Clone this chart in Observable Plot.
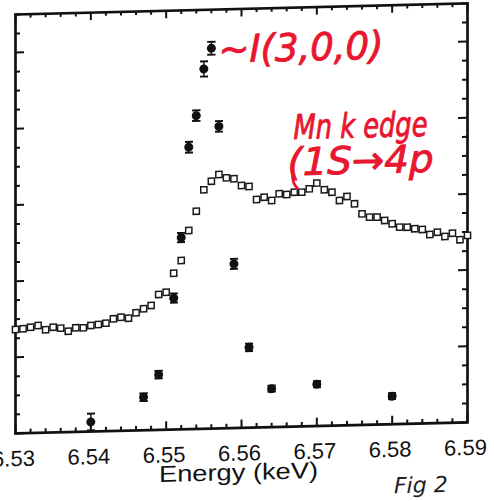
<!DOCTYPE html>
<html><head><meta charset="utf-8">
<script src="https://cdn.jsdelivr.net/npm/d3@7"></script>
<script src="https://cdn.jsdelivr.net/npm/@observablehq/plot@0.6"></script>
<style>
html,body{margin:0;padding:0;background:#fff;overflow:hidden;width:494px;height:501px;}
#chart svg{display:block;transform:skewY(-1.4deg);transform-origin:15px 433px;}
</style></head><body><div id="chart"></div>
<script>
// Mn K-edge fluorescence (open squares)
const edgeEnergy = [6.530,6.531,6.532,6.533,6.534,6.535,6.536,6.537,6.538,6.539,6.540,6.541,6.542,6.543,6.544,6.545,6.546,6.547,6.548,6.549,6.550,6.551,6.552,6.553,6.554,6.555,6.556,6.557,6.558,6.559,6.560,6.561,6.562,6.563,6.564,6.565,6.566,6.567,6.568,6.569,6.570,6.571,6.572,6.573,6.574,6.575,6.576,6.577,6.578,6.579,6.580,6.581,6.582,6.583,6.584,6.585,6.586,6.587,6.588,6.589,6.590];
const edgeIntensity = [1.365,1.372,1.390,1.410,1.352,1.383,1.368,1.326,1.368,1.365,1.394,1.404,1.419,1.474,1.492,1.477,1.546,1.596,1.637,1.779,1.806,2.053,2.218,2.609,2.860,3.138,3.249,3.334,3.288,3.274,3.183,3.167,2.994,3.022,2.976,3.062,3.050,3.078,3.076,3.117,3.190,3.100,3.066,2.955,3.005,2.906,2.772,2.726,2.724,2.678,2.632,2.585,2.582,2.560,2.548,2.479,2.507,2.448,2.489,2.401,2.455];

// (3,0,0) reflection intensity (filled circles with error bars)
const peakEnergy = [6.540,6.547,6.549,6.551,6.552,6.553,6.554,6.555,6.556,6.557,6.559,6.561,6.564,6.570,6.580];
const peakIntensity = [0.127,0.435,0.726,1.727,2.519,3.702,4.114,4.725,4.994,3.966,2.156,1.056,0.506,0.550,0.369];
const peakError = [0.11,0.05,0.05,0.06,0.06,0.07,0.07,0.10,0.085,0.07,0.065,0.05,0.04,0.04,0.04];

// axis ticks
const xMajorTicks = [6.53,6.54,6.55,6.56,6.57,6.58,6.59];
const xTickLabels = ["6.53","6.54","6.55","6.56","6.57","6.58","6.59"];
const yMajorTicks = [0,1,2,3,4,5];
const xAxisTitle = "Energy (keV)";

// handwritten notes on the scan
const notes = [
  {label:"~I(3,0,0)", energy:6.55695, level:4.804, width:165, size:38},
  {label:"Mn k edge", energy:6.56690, level:3.775, width:134, size:34},
  {label:"(1S\u21924p", energy:6.56611, level:3.302, width:146, size:38}
];
const noteTailEnergy = [6.56677,6.56697,6.56744];
const noteTailLevel = [3.284,3.192,3.125];
const figLabel = {label:"Fig 2", energy:6.5838};

const xMinorTicks = d3.range(6.53, 6.5901, 0.002).filter(v => !xMajorTicks.some(m => Math.abs(m - v) < 1e-6));
const yMinorTicks = d3.range(0, 5.5001, 0.25).filter(v => !yMajorTicks.includes(v));

const edge = edgeEnergy.map((e, i) => ({e, v: edgeIntensity[i]}));
const peak = peakEnergy.map((e, i) => ({e, v: peakIntensity[i], err: peakError[i]}));
const tail = noteTailEnergy.map((e, i) => ({e, v: noteTailLevel[i]}));

const W = 494, H = 520, mL = 15, mR = 27, mT = 14, mB = 87;
const fw = W - mL - mR, fh = H - mT - mB;
const red = "#e8162e";
const ink = "#111";
const tk = {stroke: ink, strokeWidth: 2};

const plot = Plot.plot({
  width: W,
  height: H,
  marginLeft: mL,
  marginRight: mR,
  marginTop: mT,
  marginBottom: mB,
  style: {fontFamily: "Liberation Sans, Arial, sans-serif", background: "transparent"},
  x: {domain: [6.53, 6.59], axis: null},
  y: {domain: [0, 5.5], axis: null},
  marks: [
    // inward ticks on all four sides
    Plot.tickX(xMajorTicks, {x: d => d, insetTop: fh - 8, ...tk}),
    Plot.tickX(xMinorTicks, {x: d => d, insetTop: fh - 4, ...tk}),
    Plot.tickX(xMajorTicks, {x: d => d, insetBottom: fh - 8, ...tk}),
    Plot.tickX(xMinorTicks, {x: d => d, insetBottom: fh - 4, ...tk}),
    Plot.tickY(yMajorTicks, {y: d => d, insetRight: fw - 9, ...tk}),
    Plot.tickY(yMinorTicks, {y: d => d, insetRight: fw - 5, ...tk}),
    Plot.tickY(yMajorTicks, {y: d => d, insetLeft: fw - 9, ...tk}),
    Plot.tickY(yMinorTicks, {y: d => d, insetLeft: fw - 5, ...tk}),
    Plot.axisX(xMajorTicks, {anchor: "bottom", tickSize: 0, tickPadding: 17, dx: -2,
      tickFormat: d => xTickLabels[xMajorTicks.indexOf(d)], fontSize: 22, fill: ink, label: null}),
    Plot.frame({stroke: ink, strokeWidth: 2.7}),
    Plot.text([xAxisTitle], {frameAnchor: "bottom", dy: 52, dx: -3, lineAnchor: "bottom", fontSize: 23, fill: ink}),
    // data
    Plot.dot(edge, {x: "e", y: "v", symbol: "square", r: 3.5, stroke: "#1a1a1a", strokeWidth: 1.5, fill: "white"}),
    Plot.link(peak, {x1: "e", x2: "e", y1: d => d.v - d.err, y2: d => d.v + d.err, stroke: ink, strokeWidth: 1.4, markerStart: "tick", markerEnd: "tick"}),
    Plot.dot(peak, {x: "e", y: "v", r: 4.5, fill: ink}),
    // handwritten annotations
    Plot.text(notes, {x: "energy", y: "level", text: "label", textAnchor: "start", lineAnchor: "bottom",
      fontSize: d => d.size, fill: red, stroke: red, strokeWidth: 0.9, fontFamily: "DejaVu Sans", fontStyle: "italic"}),
    Plot.line(tail, {x: "e", y: "v", stroke: red, strokeWidth: 2.8, curve: "natural"}),
    Plot.text([figLabel], {x: "energy", frameAnchor: "bottom", text: "label", dy: 69, lineAnchor: "bottom",
      fontSize: 22, fill: "#222", fontFamily: "DejaVu Sans", fontStyle: "italic"})
  ]
});
document.getElementById("chart").appendChild(plot);

// fit text widths to the scan
const widths = new Map(notes.map(n => [n.label, n.width]));
widths.set(xAxisTitle, 159);
d3.select(plot).selectAll("text").each(function () {
  const w = widths.get(this.textContent);
  if (w) { this.setAttribute("textLength", w); this.setAttribute("lengthAdjust", "spacingAndGlyphs"); }
});
</script></body></html>
